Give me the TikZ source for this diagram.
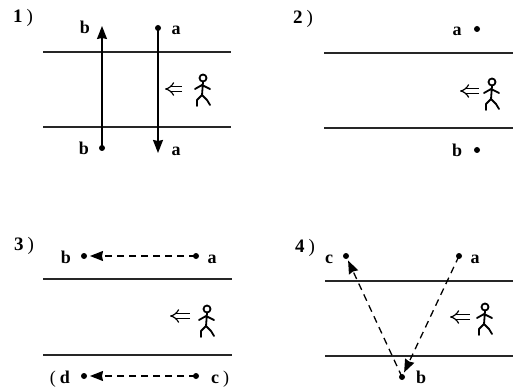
\documentclass[tikz,border=0pt]{standalone}
\usepackage{fontspec}
\setmainfont{Liberation Serif}
\usepackage{tikz}
\usetikzlibrary{arrows.meta,positioning}

\begin{document}
\begin{tikzpicture}[
      x=1pt, y=-1pt,
      lane/.style={line width=1.2pt, black!85},
      dot/.style={circle, fill=black, inner sep=0pt, minimum size=6pt},
      lbl/.style={anchor=base, inner sep=0pt, font=\fontsize{18}{18}\selectfont\bfseries},
      ttl/.style={anchor=base, inner sep=0pt, font=\fontsize{19}{19}\selectfont\bfseries},
      path/.style={-{Stealth[length=13pt, width=10pt, inset=1pt]}, line width=1.4pt},
      dpath/.style={-{Stealth[length=13pt, width=10pt, inset=1pt]}, line width=1.3pt, dash pattern=on 7pt off 5pt},
      go/.style={-{Implies}, double, double distance=3.5pt, line width=1.2pt},
      walker/.pic={
        \draw[line width=1.8pt, line cap=round, line join=round]
          (0,0) circle (3.5)
          (0,4) -- (-1,17)
          (-8,11) -- (-1,7) -- (7,11)
          (-6,28) -- (-6,22) -- (-1,17) -- (4,22) -- (7,27);
      }
    ]
      \useasboundingbox (0,0) rectangle (524,387);

      % Panel 1
      \node[ttl] (t1) at (23,23) {1\hspace{4pt}{\mdseries)}};
      \draw[lane] (43,52) -- (231,52);
      \draw[lane] (43,127) -- (231,127);
      \node[dot] (p1a) at (158,28) {};
      \node[dot] (p1b) at (102,148) {};
      \coordinate (p1bend) at (102,26);
      \coordinate (p1aend) at (158,153);
      \node[lbl] (p1bt) at (85,34) {b};
      \node[lbl] (p1at) at (176,35) {a};
      \node[lbl] (p1bb) at (84,155) {b};
      \node[lbl] (p1ab) at (176,156) {a};
      \draw[path] (p1b.center) -- (p1bend);
      \draw[path] (p1a.center) -- (p1aend);
      \coordinate (p1g) at (182,89);
      \coordinate (p1h) at (165,89);
      \draw[go] (p1g) -- (p1h);
      \pic at (203,78) {walker};

      % Panel 2
      \node[ttl] (t2) at (303,24) {2\hspace{4pt}{\mdseries)}};
      \draw[lane] (324,53) -- (513,53);
      \draw[lane] (324,128) -- (513,128);
      \node[dot] (p2a) at (477,29) {};
      \node[dot] (p2b) at (477,150) {};
      \node[lbl] (p2at) at (457,36) {a};
      \node[lbl] (p2bt) at (457,157) {b};
      \coordinate (p2g) at (479,91);
      \coordinate (p2h) at (460,91);
      \draw[go] (p2g) -- (p2h);
      \pic at (492,82) {walker};

      % Panel 3
      \node[ttl] (t3) at (24,251) {3\hspace{4pt}{\mdseries)}};
      \draw[lane] (43,279) -- (232,279);
      \draw[lane] (43,355) -- (232,355);
      \node[dot] (p3b) at (84,256) {};
      \node[dot] (p3a) at (196,256) {};
      \node[lbl] (p3bt) at (66,263) {b};
      \node[lbl] (p3at) at (212,263) {a};
      \draw[dpath, shorten >=6pt] (p3a.center) -- (p3b.center);
      \node[dot] (p3d) at (84,376) {};
      \node[dot] (p3c) at (196,376) {};
      \node[lbl] (p3dt) at (60,383) {{\mdseries(}\hspace{4pt}d};
      \node[lbl] (p3ct) at (220,383) {c\hspace{4pt}{\mdseries)}};
      \draw[dpath, shorten >=6pt] (p3c.center) -- (p3d.center);
      \coordinate (p3g) at (190,316);
      \coordinate (p3h) at (170,316);
      \draw[go] (p3g) -- (p3h);
      \pic at (207,309) {walker};

      % Panel 4
      \node[ttl] (t4) at (305,252) {4\hspace{4pt}{\mdseries)}};
      \draw[lane] (325,281) -- (513,281);
      \draw[lane] (325,356) -- (513,356);
      \node[dot] (p4c) at (346,256) {};
      \node[dot] (p4a) at (459,256) {};
      \node[dot] (p4b) at (402,377) {};
      \node[lbl] (p4ct) at (329,263) {c};
      \node[lbl] (p4at) at (475,263) {a};
      \node[lbl] (p4bt) at (421,383) {b};
      \draw[dpath, shorten >=5pt] (p4a.center) -- (p4b.center);
      \draw[dpath, shorten >=5pt] (p4b.center) -- (p4c.center);
      \coordinate (p4g) at (470,317);
      \coordinate (p4h) at (450,317);
      \draw[go] (p4g) -- (p4h);
      \pic at (485,307) {walker};
    \end{tikzpicture}
\end{document}
